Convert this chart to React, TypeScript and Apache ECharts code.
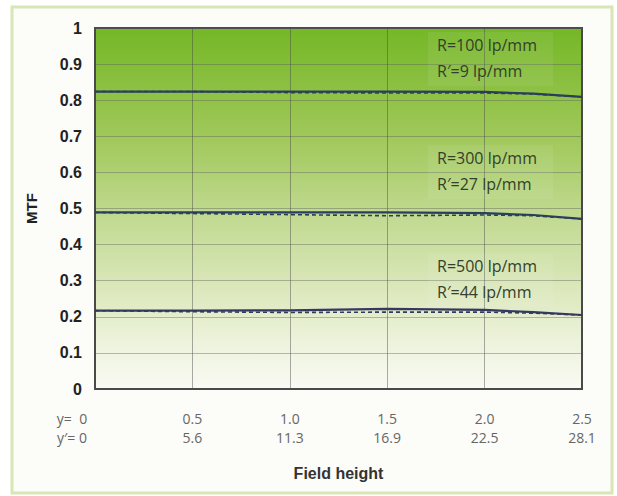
import React, { useEffect, useRef } from "react";
import * as echarts from "echarts";

const fieldHeights = [0, 0.5, 1.0, 1.5, 2.0, 2.25, 2.5];
const yPrimeLabels = ["0", "5.6", "11.3", "16.9", "22.5", "28.1"];
const yLabels = ["0", "0.1", "0.2", "0.3", "0.4", "0.5", "0.6", "0.7", "0.8", "0.9", "1"];

const r100Solid = [0.824, 0.824, 0.824, 0.824, 0.823, 0.818, 0.809];
const r100Dashed = [0.824, 0.824, 0.821, 0.82, 0.82, 0.817, 0.809];
const r300Solid = [0.489, 0.489, 0.489, 0.489, 0.487, 0.482, 0.471];
const r300Dashed = [0.489, 0.486, 0.483, 0.48, 0.482, 0.48, 0.471];
const r500Solid = [0.217, 0.217, 0.218, 0.222, 0.219, 0.213, 0.205];
const r500Dashed = [0.217, 0.214, 0.212, 0.213, 0.213, 0.21, 0.205];

const annotations = [
  ["R=100 lp/mm", "R\u2032=9 lp/mm"],
  ["R=300 lp/mm", "R\u2032=27 lp/mm"],
  ["R=500 lp/mm", "R\u2032=44 lp/mm"],
];
const annotationTops = [32, 145, 253];

const pair = (ys: number[]) => fieldHeights.map((x, i) => [x, ys[i]]);

export default function App() {
  const ref = useRef<HTMLDivElement>(null);
  useEffect(() => {
    if (!ref.current) return;
    const chart = echarts.init(ref.current, undefined, { renderer: "svg" });
    const lineColor = "#2b3f5c";
    const mk = (name: string, data: number[], dashed: boolean, color: string) => ({
      name,
      type: "line",
      data: pair(data),
      symbol: "none",
      lineStyle: { color, width: dashed ? 1.6 : 2.2, type: dashed ? [4, 3] : "solid" },
      z: dashed ? 4 : 3,
    });
    const graphics: any[] = [
      {
        type: "rect",
        shape: { x: 12, y: 7, width: 600, height: 486 },
        style: { fill: "#fcfcf9", stroke: "#d8e6b4", lineWidth: 3 },
        z: -10,
        silent: true,
      },
    ];
    annotations.forEach((lines, i) => {
      graphics.push({
        type: "rect",
        shape: { x: 428, y: annotationTops[i], width: 125, height: 54 },
        style: { fill: "rgba(255,255,255,0.07)" },
        z: 2,
        silent: true,
      });
      lines.forEach((t, j) => {
        graphics.push({
          type: "text",
          x: 437,
          y: annotationTops[i] + 13 + j * 26,
          style: {
            text: t,
            fill: "#34402c",
            fontSize: 16,
            fontFamily: "Open Sans",
            verticalAlign: "middle",
            textAlign: "left",
          },
          z: 3,
          silent: true,
        });
      });
    });
    chart.setOption({
      animation: false,
      grid: {
        left: 95,
        top: 28,
        right: 35,
        bottom: 107,
        show: true,
        borderColor: "#4a4a4a",
        borderWidth: 2,
        backgroundColor: new echarts.graphic.LinearGradient(0, 0, 0, 1, [
          { offset: 0, color: "#74b726" },
          { offset: 0.3, color: "#a0c85a" },
          { offset: 0.5, color: "#bed88c" },
          { offset: 0.7, color: "#d8e6b6" },
          { offset: 0.86, color: "#ecf2da" },
          { offset: 1, color: "#f9faf4" },
        ]),
      },
      xAxis: {
        type: "value",
        min: 0,
        max: 2.5,
        interval: 0.5,
        name: "Field height",
        nameLocation: "middle",
        nameGap: 76,
        nameTextStyle: { fontSize: 16, fontWeight: "bold", color: "#333", fontFamily: "Liberation Sans" },
        axisLine: { show: true, lineStyle: { color: "#4a4a4a", width: 2 } },
        axisTick: { show: false },
        splitLine: { show: true, lineStyle: { color: "rgba(70,70,70,0.45)", width: 1 } },
        axisLabel: {
          margin: 20,
          color: "#666",
          fontSize: 14,
          fontFamily: "Open Sans",
          lineHeight: 19,
          formatter: (v: number) => {
            const i = Math.round(v / 0.5);
            if (i === 0) return "{z|y=  0}\n{z|y\u2032= 0}";
            return v.toFixed(1) + "\n" + yPrimeLabels[i];
          },
          rich: {
            z: { padding: [0, 46, 0, 0], color: "#666", fontSize: 14, fontFamily: "Open Sans", lineHeight: 19 },
          },
        },
      },
      yAxis: {
        type: "value",
        min: 0,
        max: 1,
        interval: 0.1,
        name: "MTF",
        nameLocation: "middle",
        nameGap: 56,
        nameRotate: 90,
        nameTextStyle: { fontSize: 15, fontWeight: "bold", color: "#222", fontFamily: "Liberation Sans" },
        axisLine: { show: true, lineStyle: { color: "#4a4a4a", width: 2 } },
        axisTick: { show: false },
        splitLine: { show: true, lineStyle: { color: "rgba(90,90,90,0.4)", width: 1 } },
        axisLabel: {
          margin: 13,
          color: "#222",
          fontSize: 16,
          fontWeight: "bold",
          fontFamily: "Liberation Sans",
          formatter: (v: number) => yLabels[Math.round(v * 10)],
        },
      },
      graphic: graphics,
      series: [
        mk("R100 solid", r100Solid, false, lineColor),
        mk("R100 dashed", r100Dashed, true, lineColor),
        mk("R300 solid", r300Solid, false, lineColor),
        mk("R300 dashed", r300Dashed, true, lineColor),
        mk("R500 solid", r500Solid, false, "#35395e"),
        mk("R500 dashed", r500Dashed, true, "#35395e"),
      ],
    });
    return () => chart.dispose();
  }, []);
  return (
    <div
      ref={ref}
      style={{ position: "absolute", left: 0, top: 0, width: 617, height: 496 }}
    />
  );
}
